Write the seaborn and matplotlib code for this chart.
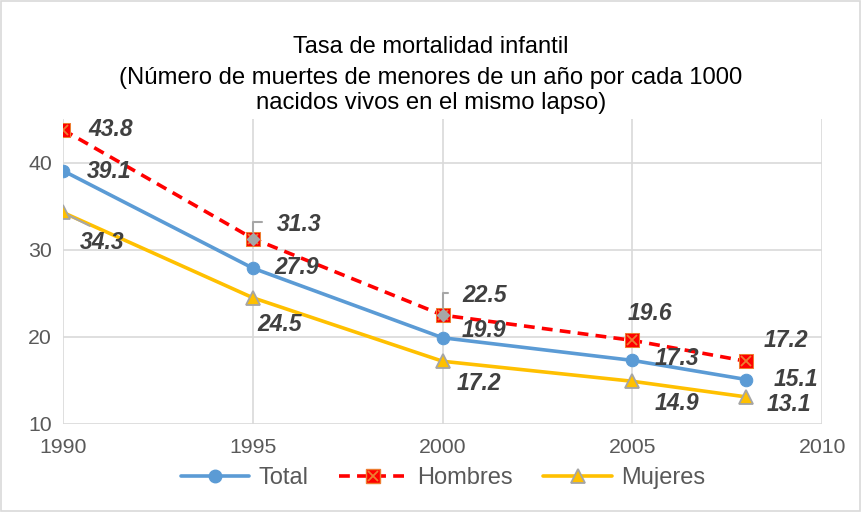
import numpy as np
import pandas as pd
import matplotlib
matplotlib.use("Agg")
import matplotlib.pyplot as plt
import seaborn as sns
from matplotlib.lines import Line2D
from matplotlib.legend_handler import HandlerTuple
from matplotlib.patches import Rectangle

# Data
years = [1990, 1995, 2000, 2005, 2008]
total = [39.1, 27.9, 19.9, 17.3, 15.1]
hombres = [43.8, 31.3, 22.5, 19.6, 17.2]
mujeres = [34.3, 24.5, 17.2, 14.9, 13.1]

sns.set_style("white")
plt.rcParams['font.family'] = ['Liberation Sans', 'DejaVu Sans']

fig, ax = plt.subplots(figsize=(8.62, 5.12), dpi=100)
fig.subplots_adjust(left=0.073, right=0.954, bottom=0.172, top=0.767)

c_total = '#5b9bd5'
c_homb = '#ff0000'
c_muj = '#ffc000'

sns.lineplot(x=years, y=total, ax=ax, color=c_total, lw=2.6, marker='o',
             markersize=9, markeredgecolor=c_total, zorder=3)
sns.lineplot(x=years, y=hombres, ax=ax, color=c_homb, lw=2.6, linestyle=(0, (3, 2)),
             marker='s', markersize=9.5, markeredgecolor='#ed7d31', zorder=4)
ax.plot(years, hombres, ls='none', marker='x', color='#ed7d31', markersize=7,
        markeredgewidth=1.3, zorder=5)
# gray leader-line anchors drawn over the labelled points
ax.plot(years[1:3], hombres[1:3], ls='none', marker='D', color='#a6a6a6',
        markersize=6, zorder=5)
sns.lineplot(x=years, y=mujeres, ax=ax, color=c_muj, lw=2.6, marker='^',
             markersize=10, markeredgecolor='#a5a5a5', markeredgewidth=1.3, zorder=3)

ax.set_xlim(1990, 2010)
ax.set_ylim(10, 45)
ax.set_xticks([1990, 1995, 2000, 2005, 2010])
ax.set_yticks([10, 20, 30, 40])
ax.grid(True, color='#d9d9d9', lw=1.2)
ax.set_axisbelow(True)
for s in ax.spines.values():
    s.set_visible(False)
ax.tick_params(axis='both', labelsize=15.3, colors='#595959', length=0)
ax.tick_params(axis='x', pad=10)
ax.tick_params(axis='y', pad=8)
ax.set_xlabel('')
ax.set_ylabel('')

# Data labels (offsets in pixels from the marker)
lab_style = dict(fontsize=16.5, fontweight='bold', fontstyle='italic', color='#404040',
                 ha='left', va='center', textcoords='offset pixels')
off_h = [(25, 0), (24, 14), (20, 20), (-5, 27), (17, 21)]
off_t = [(24, -1), (22, 1), (19, 7), (22, 2), (27, 0)]
off_m = [(17, -30), (5, -27), (14, -22), (22, -22), (20, -8)]
leader = dict(arrowstyle='-', color='#a6a6a6', lw=1.5, shrinkA=2, shrinkB=5)

for i, (x, v) in enumerate(zip(years, hombres)):
    kw = {}
    if i in (1, 2):
        kw['arrowprops'] = dict(leader, connectionstyle='angle,angleA=0,angleB=90',
                                relpos=(0, 0.6), shrinkA=8)
    ax.annotate(f'{v:.1f}', (x, v), xytext=off_h[i], zorder=6, **lab_style, **kw)
for i, (x, v) in enumerate(zip(years, total)):
    ax.annotate(f'{v:.1f}', (x, v), xytext=off_t[i], zorder=6, **lab_style)
for i, (x, v) in enumerate(zip(years, mujeres)):
    kw = {}
    if i == 0:
        kw['arrowprops'] = dict(leader, relpos=(0.45, 1), shrinkA=3)
    ax.annotate(f'{v:.1f}', (x, v), xytext=off_m[i], zorder=6, **lab_style, **kw)

# Title
fig.text(0.5, 0.908, 'Tasa de mortalidad infantil', ha='center', va='center',
         fontsize=17, color='#000000')
fig.text(0.5, 0.848, '(Número de muertes de menores de un año por cada 1000',
         ha='center', va='center', fontsize=17.2, color='#000000')
fig.text(0.5, 0.799, 'nacidos vivos en el mismo lapso)',
         ha='center', va='center', fontsize=17.2, color='#000000')

# Legend
h_t = Line2D([], [], color=c_total, lw=2.6, marker='o', markersize=9)
h_h = (Line2D([], [], color=c_homb, lw=2.6, linestyle=(0, (3, 2)), marker='s',
              markersize=9.5, markeredgecolor='#ed7d31'),
       Line2D([], [], ls='none', marker='x', color='#ed7d31', markersize=7,
              markeredgewidth=1.3))
h_m = Line2D([], [], color=c_muj, lw=2.6, marker='^', markersize=10,
             markeredgecolor='#a5a5a5', markeredgewidth=1.3)
leg = fig.legend([h_t, h_h, h_m], ['Total', 'Hombres', 'Mujeres'], loc='center',
                 bbox_to_anchor=(0.514, 0.066), ncol=3, frameon=False, fontsize=17,
                 handlelength=2.9, columnspacing=1.3, handletextpad=0.4,
                 handler_map={tuple: HandlerTuple(ndivide=1, pad=0)})
for t in leg.get_texts():
    t.set_color('#595959')

fig.patches.append(Rectangle((0.001, 0.002), 0.997, 0.996, transform=fig.transFigure,
                             fill=False, edgecolor='#d9d9d9', lw=1.2))

fig.savefig('out.png', dpi=100)
